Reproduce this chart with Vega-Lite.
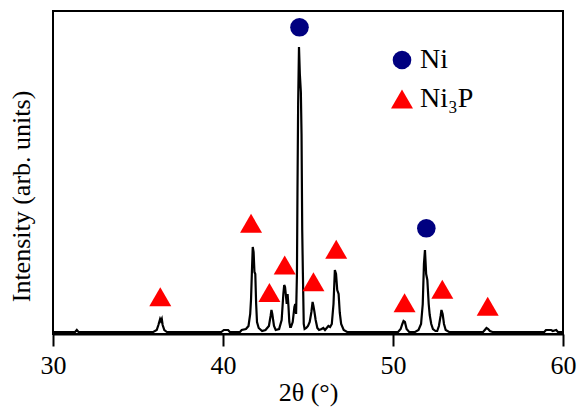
{
  "$schema": "https://vega.github.io/schema/vega-lite/v6.json",
  "autosize": {"type": "none"},
  "padding": {"left": 53, "top": 11, "right": 18, "bottom": 73},
  "width": 510,
  "height": 323,
  "background": "white",
  "config": {
    "view": {"stroke": "black", "strokeWidth": 2},
    "font": "Liberation Serif",
    "axis": {"grid": false, "labelFont": "Liberation Serif", "titleFont": "Liberation Serif", "labelColor": "black", "titleColor": "black", "titleFontWeight": "normal", "labelFontSize": 26, "titleFontSize": 26, "domainColor": "black", "tickColor": "black", "domainWidth": 2, "tickWidth": 2, "labelFlush": false},
    "legend": {"labelFont": "Liberation Serif", "labelFontSize": 28, "labelColor": "black", "orient": "none", "legendX": 335, "legendY": 35, "padding": 0, "rowPadding": 11, "labelOffset": 4, "symbolStrokeWidth": 0, "symbolOpacity": 1}
  },
  "datasets": {
    "xrd": [
      {"t": 30.0, "i": 2}, {"t": 31.3, "i": 2}, {"t": 31.4, "i": 4}, {"t": 31.5, "i": 2},
      {"t": 35.9, "i": 2}, {"t": 36.1, "i": 4}, {"t": 36.2, "i": 9}, {"t": 36.3, "i": 15}, {"t": 36.35, "i": 13}, {"t": 36.4, "i": 15}, {"t": 36.45, "i": 9}, {"t": 36.55, "i": 4}, {"t": 36.7, "i": 2},
      {"t": 39.9, "i": 2}, {"t": 40.05, "i": 4}, {"t": 40.3, "i": 4}, {"t": 40.4, "i": 2},
      {"t": 41.0, "i": 2}, {"t": 41.1, "i": 4}, {"t": 41.35, "i": 5}, {"t": 41.5, "i": 8}, {"t": 41.6, "i": 20}, {"t": 41.65, "i": 35}, {"t": 41.7, "i": 62}, {"t": 41.75, "i": 87}, {"t": 41.8, "i": 82}, {"t": 41.85, "i": 62}, {"t": 41.9, "i": 60}, {"t": 41.95, "i": 30}, {"t": 42.0, "i": 12}, {"t": 42.1, "i": 6}, {"t": 42.3, "i": 3},
      {"t": 42.5, "i": 4}, {"t": 42.7, "i": 8}, {"t": 42.8, "i": 18}, {"t": 42.85, "i": 24}, {"t": 42.9, "i": 20}, {"t": 42.95, "i": 14}, {"t": 43.0, "i": 8}, {"t": 43.1, "i": 4},
      {"t": 43.3, "i": 5}, {"t": 43.45, "i": 14}, {"t": 43.55, "i": 40}, {"t": 43.6, "i": 49}, {"t": 43.65, "i": 47}, {"t": 43.75, "i": 30}, {"t": 43.8, "i": 40}, {"t": 43.85, "i": 28}, {"t": 43.9, "i": 12}, {"t": 43.95, "i": 7}, {"t": 44.0, "i": 7},
      {"t": 44.1, "i": 12}, {"t": 44.2, "i": 27}, {"t": 44.25, "i": 30}, {"t": 44.3, "i": 20}, {"t": 44.35, "i": 60}, {"t": 44.38, "i": 140}, {"t": 44.42, "i": 230}, {"t": 44.47, "i": 287}, {"t": 44.52, "i": 260}, {"t": 44.58, "i": 242}, {"t": 44.62, "i": 200}, {"t": 44.66, "i": 104}, {"t": 44.7, "i": 60}, {"t": 44.75, "i": 10}, {"t": 44.8, "i": 5},
      {"t": 44.9, "i": 6}, {"t": 45.0, "i": 8}, {"t": 45.1, "i": 12}, {"t": 45.2, "i": 22}, {"t": 45.27, "i": 32}, {"t": 45.32, "i": 28}, {"t": 45.38, "i": 22}, {"t": 45.45, "i": 14}, {"t": 45.55, "i": 6}, {"t": 45.65, "i": 4},
      {"t": 45.8, "i": 5}, {"t": 45.9, "i": 6}, {"t": 46.0, "i": 4}, {"t": 46.2, "i": 8}, {"t": 46.3, "i": 7}, {"t": 46.4, "i": 10}, {"t": 46.5, "i": 30}, {"t": 46.58, "i": 64}, {"t": 46.65, "i": 60}, {"t": 46.72, "i": 44}, {"t": 46.8, "i": 40}, {"t": 46.87, "i": 21}, {"t": 46.95, "i": 10}, {"t": 47.1, "i": 4}, {"t": 47.3, "i": 2},
      {"t": 50.3, "i": 2}, {"t": 50.45, "i": 5}, {"t": 50.55, "i": 10}, {"t": 50.62, "i": 13}, {"t": 50.7, "i": 12}, {"t": 50.8, "i": 5}, {"t": 50.95, "i": 2},
      {"t": 51.3, "i": 2}, {"t": 51.5, "i": 4}, {"t": 51.65, "i": 10}, {"t": 51.75, "i": 30}, {"t": 51.82, "i": 70}, {"t": 51.88, "i": 84}, {"t": 51.95, "i": 60}, {"t": 52.02, "i": 54}, {"t": 52.1, "i": 30}, {"t": 52.16, "i": 19}, {"t": 52.25, "i": 10}, {"t": 52.35, "i": 5}, {"t": 52.5, "i": 3},
      {"t": 52.6, "i": 3}, {"t": 52.7, "i": 8}, {"t": 52.8, "i": 18}, {"t": 52.85, "i": 24}, {"t": 52.92, "i": 20}, {"t": 53.0, "i": 10}, {"t": 53.1, "i": 4}, {"t": 53.3, "i": 2},
      {"t": 55.3, "i": 2}, {"t": 55.4, "i": 4}, {"t": 55.5, "i": 6}, {"t": 55.6, "i": 5}, {"t": 55.7, "i": 3}, {"t": 55.85, "i": 2},
      {"t": 58.9, "i": 2}, {"t": 59.0, "i": 4}, {"t": 59.3, "i": 4}, {"t": 59.4, "i": 3}, {"t": 59.6, "i": 4}, {"t": 59.7, "i": 2}, {"t": 60.0, "i": 2}
    ],
    "marks": [
      {"t": 44.5, "i": 306.7, "phase": "Ni"},
      {"t": 51.96, "i": 105.7, "phase": "Ni"},
      {"t": 36.31, "i": 37.3, "phase": "Ni₃P"},
      {"t": 41.65, "i": 110.7, "phase": "Ni₃P"},
      {"t": 42.73, "i": 41.5, "phase": "Ni₃P"},
      {"t": 43.63, "i": 69, "phase": "Ni₃P"},
      {"t": 45.32, "i": 52.3, "phase": "Ni₃P"},
      {"t": 46.66, "i": 84.7, "phase": "Ni₃P"},
      {"t": 50.68, "i": 31.3, "phase": "Ni₃P"},
      {"t": 52.9, "i": 44.7, "phase": "Ni₃P"},
      {"t": 55.57, "i": 27.7, "phase": "Ni₃P"}
    ]
  },
  "layer": [
    {
      "data": {"name": "xrd"},
      "mark": {"type": "line", "color": "black", "strokeWidth": 2.2, "clip": true},
      "encoding": {
        "x": {"field": "t", "type": "quantitative", "scale": {"domain": [30, 60], "nice": false}, "axis": {"values": [30, 40, 50, 60], "tickSize": 12, "labelPadding": 6, "titlePadding": 1, "title": "2θ (°)"}},
        "y": {"field": "i", "type": "quantitative", "scale": {"domain": [0, 323], "nice": false}, "axis": {"labels": false, "ticks": false, "domain": false, "title": "Intensity (arb. units)", "titlePadding": 19, "titleY": 185}}
      }
    },
    {
      "data": {"name": "marks"},
      "mark": {"type": "point", "filled": true, "opacity": 1, "strokeWidth": 0},
      "encoding": {
        "x": {"field": "t", "type": "quantitative"},
        "y": {"field": "i", "type": "quantitative"},
        "shape": {"field": "phase", "type": "nominal", "scale": {"domain": ["Ni", "Ni₃P"], "range": ["circle", "triangle-up"]}, "legend": {"title": null, "labelFontSize": 28}},
        "color": {"field": "phase", "type": "nominal", "scale": {"domain": ["Ni", "Ni₃P"], "range": ["#000080", "#ff0000"]}, "legend": {"title": null, "labelFontSize": 28}},
        "size": {"field": "phase", "type": "ordinal", "scale": {"domain": ["Ni", "Ni₃P"], "range": [346, 484]}, "legend": {"title": null, "labelFontSize": 28}},
        "opacity": {"value": 1}
      }
    }
  ]
}
